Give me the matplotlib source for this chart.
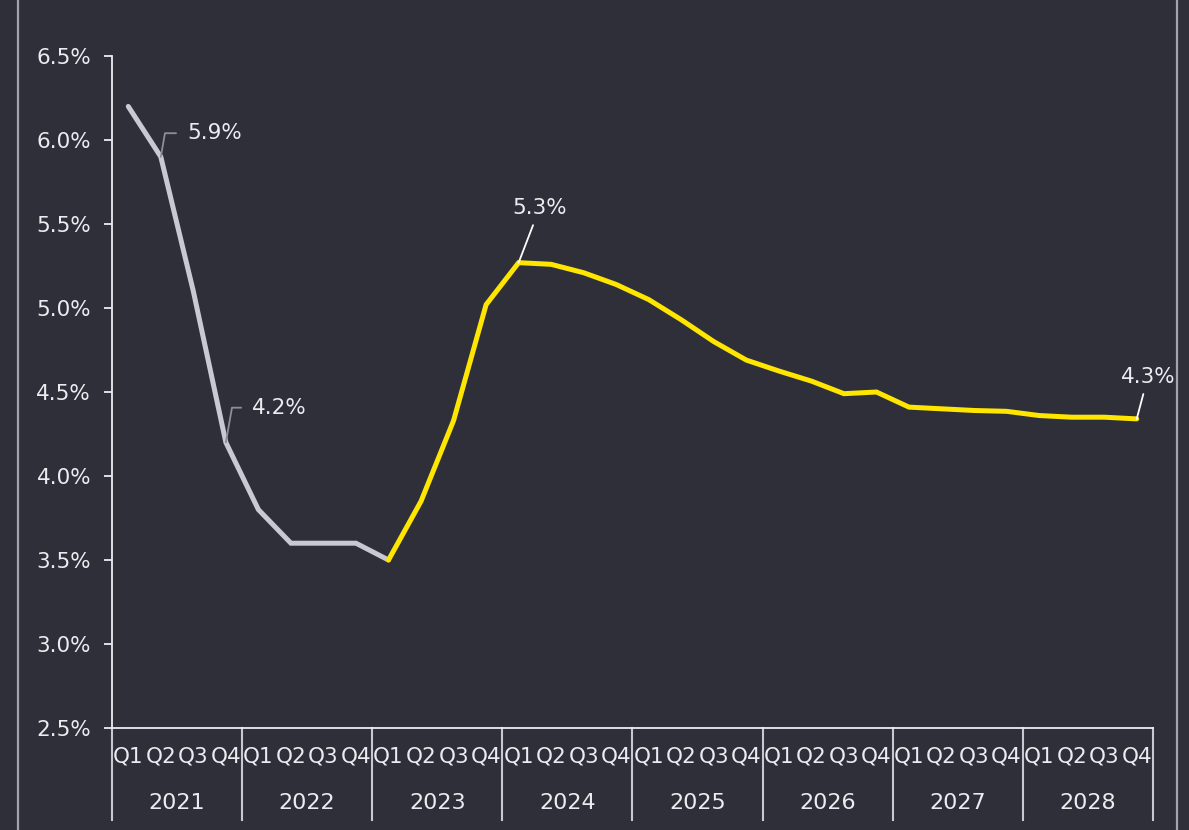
import matplotlib.pyplot as plt
from matplotlib.lines import Line2D
import matplotlib.ticker as mticker

years = ["2021", "2022", "2023", "2024", "2025", "2026", "2027", "2028"]
quarters = ["Q1", "Q2", "Q3", "Q4"]

# unemployment rate, %, one value per quarter 2021Q1 .. 2028Q4
actual = [6.2, 5.9, 5.1, 4.2, 3.8, 3.6, 3.6, 3.6, 3.5]
forecast = [3.5, 3.85, 4.33, 5.02, 5.27, 5.26, 5.21, 5.14,
            5.05, 4.93, 4.80, 4.69, 4.625, 4.565, 4.49, 4.50,
            4.41, 4.40, 4.39, 4.385, 4.36, 4.35, 4.35, 4.34]

bg = "#2e2f39"
txt = "#ececf0"
grey_line = "#c9c9d2"
yellow = "#ffe600"

fig = plt.figure(figsize=(11.89, 8.30), dpi=100)
fig.patch.set_facecolor(bg)
ax = fig.add_axes([0.0942, 0.1229, 0.8755, 0.8096])
ax.set_facecolor(bg)

x_act = list(range(len(actual)))
x_fc = list(range(len(actual) - 1, len(actual) - 1 + len(forecast)))
ax.plot(x_act, actual, color=grey_line, lw=3.6, solid_capstyle="round", solid_joinstyle="miter", zorder=3)
ax.plot(x_fc, forecast, color=yellow, lw=3.6, solid_capstyle="round", solid_joinstyle="miter", zorder=3)

ax.set_xlim(-0.5, len(years) * 4 - 0.5)
ax.set_ylim(2.5, 6.5)
ax.yaxis.set_major_locator(mticker.MultipleLocator(0.5))
ax.yaxis.set_major_formatter(mticker.FuncFormatter(lambda v, p: f"{v:.1f}%"))
ax.tick_params(axis="y", colors=txt, labelsize=15.5, length=6, width=1.3, pad=9)
ax.tick_params(axis="x", bottom=False, labelbottom=False)
for s in ["top", "right"]:
    ax.spines[s].set_visible(False)
for s in ["left", "bottom"]:
    ax.spines[s].set_color(txt)
    ax.spines[s].set_linewidth(1.3)

# category axis: quarter labels, year labels, separators
trans = ax.get_xaxis_transform()
for i, yr in enumerate(years):
    for j, q in enumerate(quarters):
        ax.text(i * 4 + j, -0.043, q, transform=trans, ha="center", va="center",
                fontsize=15.5, color=txt)
    ax.text(i * 4 + 1.5, -0.112, yr, transform=trans, ha="center", va="center",
            fontsize=16, color=txt)
for k in range(len(years) + 1):
    ax.plot([k * 4 - 0.5, k * 4 - 0.5], [0, -0.137], transform=trans, color="#c8c8d0",
            lw=1.5, clip_on=False)

# data labels
ax.annotate("5.9%", xy=(1, actual[1]), xytext=(19, 17), textcoords="offset points",
            ha="left", va="center", fontsize=15.5, color=txt,
            arrowprops=dict(arrowstyle="-", color="#8e8e98", lw=1.3, shrinkA=6, shrinkB=0,
                            connectionstyle="angle,angleA=0,angleB=80,rad=0"))
ax.annotate("4.2%", xy=(3, actual[3]), xytext=(19, 25), textcoords="offset points",
            ha="left", va="center", fontsize=15.5, color=txt,
            arrowprops=dict(arrowstyle="-", color="#8e8e98", lw=1.3, shrinkA=6, shrinkB=0,
                            connectionstyle="angle,angleA=0,angleB=80,rad=0"))
ax.annotate("5.3%", xy=(12, forecast[4]), xytext=(15, 39), textcoords="offset points",
            ha="center", va="center", fontsize=15.5, color=txt,
            arrowprops=dict(arrowstyle="-", color="white", lw=1.3, shrinkA=3, shrinkB=0))
ax.annotate("4.3%", xy=(31, forecast[-1]), xytext=(8, 30), textcoords="offset points",
            ha="center", va="center", fontsize=15.5, color=txt,
            arrowprops=dict(arrowstyle="-", color="white", lw=1.3, shrinkA=3, shrinkB=0))

# side frame lines
for fx in [18 / 1189, 1177 / 1189]:
    fig.add_artist(Line2D([fx, fx], [0, 1], transform=fig.transFigure, color="#a3a3ab", lw=1.6))

fig.savefig("out.png", dpi=100, facecolor=bg)
